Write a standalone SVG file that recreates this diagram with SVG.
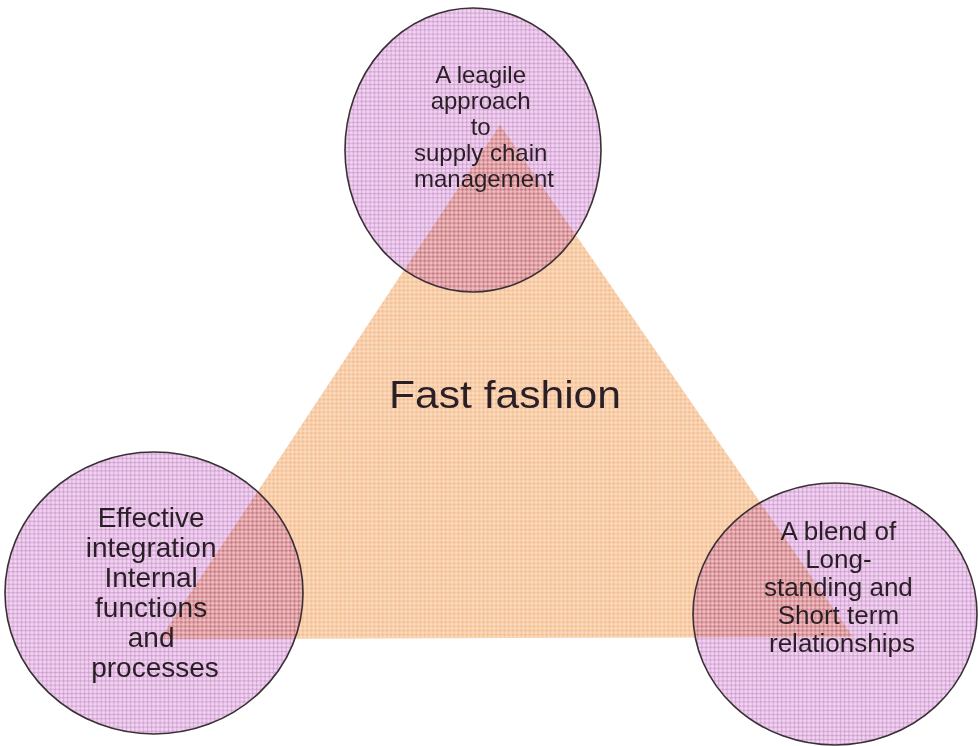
<svg xmlns="http://www.w3.org/2000/svg" width="978" height="746" viewBox="0 0 978 746">
<style>
.lbl{font-family:"Liberation Sans",Arial,sans-serif;fill:#2a1f26;text-anchor:middle}
.circ{fill:#efc6ef;mix-blend-mode:multiply}
.ring{fill:url(#gridP);stroke:#3a3035;stroke-width:1.6}
</style>
<defs>
<pattern id="gridP" width="4.2" height="4.2" patternUnits="userSpaceOnUse">
<path d="M0 0.5H4.2M0.5 0V4.2" stroke="#6a3a6a" stroke-opacity="0.25" stroke-width="1"/>
<path d="M0 2.6H4.2M2.6 0V4.2" stroke="#ffffff" stroke-opacity="0.25" stroke-width="1"/>
</pattern>
<pattern id="gridO" width="4.2" height="4.2" patternUnits="userSpaceOnUse">
<path d="M0 0.5H4.2M0.5 0V4.2" stroke="#e6a274" stroke-opacity="0.35" stroke-width="1"/>
<path d="M0 2.6H4.2M2.6 0V4.2" stroke="#ffffff" stroke-opacity="0.3" stroke-width="1"/>
</pattern>
</defs>
<rect width="978" height="746" fill="#ffffff"/>
<g id="node-triangle">
<polygon points="500,125 160,639 853,637" fill="#f9cea6"/>
<polygon points="500,125 160,639 853,637" fill="url(#gridO)"/>
</g>
<g id="node-top">
<ellipse class="circ" cx="473" cy="150" rx="128" ry="142"/>
<ellipse class="ring" cx="473" cy="150" rx="128" ry="142"/>
</g>
<g id="node-left">
<ellipse class="circ" cx="154" cy="593" rx="149" ry="141"/>
<ellipse class="ring" cx="154" cy="593" rx="149" ry="141"/>
</g>
<g id="node-right">
<ellipse class="circ" cx="835" cy="614" rx="142" ry="131"/>
<ellipse class="ring" cx="835" cy="614" rx="142" ry="131"/>
</g>
<g id="labels">
<text class="lbl" x="505" y="408" font-size="38" textLength="232" lengthAdjust="spacingAndGlyphs">Fast fashion</text>
<text class="lbl" font-size="24">
<tspan x="484" y="83">A leagile</tspan>
<tspan x="484" y="109">approach</tspan>
<tspan x="484" y="135">to</tspan>
<tspan x="484" y="161">supply chain</tspan>
<tspan x="484" y="187">management</tspan>
</text>
<text class="lbl" font-size="28">
<tspan x="155" y="527">Effective</tspan>
<tspan x="155" y="557">integration</tspan>
<tspan x="155" y="587">Internal</tspan>
<tspan x="155" y="617">functions</tspan>
<tspan x="155" y="647">and</tspan>
<tspan x="155" y="677">processes</tspan>
</text>
<text class="lbl" font-size="26">
<tspan x="842" y="540">A blend of</tspan>
<tspan x="842" y="568">Long-</tspan>
<tspan x="842" y="596">standing and</tspan>
<tspan x="842" y="624">Short term</tspan>
<tspan x="842" y="652">relationships</tspan>
</text>
</g>
</svg>
